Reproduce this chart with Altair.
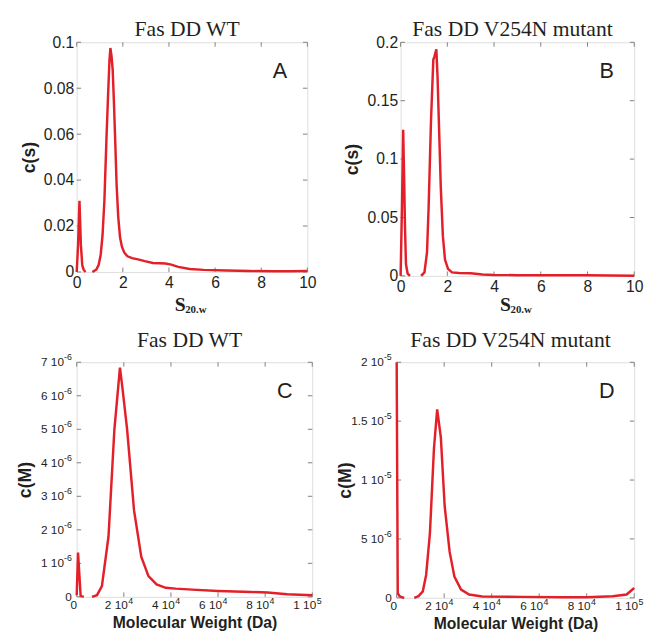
import altair as alt
import pandas as pd

RED = "#e3202a"
FRAME = "#808080"
TXT = "#231f20"
SANS = "Liberation Sans"
SERIF = "Liberation Serif"

# ---------------- data ----------------
titles = ["Fas DD WT", "Fas DD V254N mutant", "Fas DD WT", "Fas DD V254N mutant"]
letters = ["A", "B", "C", "D"]

# Panel A: c(s) vs s20,w (WT)
a_s1 = [0.0, 0.06, 0.12, 0.18, 0.24, 0.3, 0.38]
a_c1 = [0.0, 0.012, 0.031, 0.012, 0.003, 0.001, 0.0]
a_s2 = [0.68, 0.85, 0.95, 1.04, 1.12, 1.2, 1.29, 1.36, 1.42, 1.46, 1.51, 1.56, 1.61, 1.67,
        1.73, 1.8, 1.88, 1.96, 2.06, 2.2, 2.4, 2.66, 2.95, 3.3, 3.6, 3.85, 4.1, 4.4, 4.9,
        5.5, 6.5, 7.5, 8.5, 9.3, 10.0]
a_c2 = [0.0, 0.001, 0.003, 0.0075, 0.016, 0.031, 0.058, 0.077, 0.092, 0.0975, 0.094, 0.088,
        0.075, 0.057, 0.038, 0.024, 0.015, 0.011, 0.0085, 0.0068, 0.006, 0.0055, 0.0047,
        0.0039, 0.0038, 0.0037, 0.0032, 0.0022, 0.0013, 0.0009, 0.0006, 0.0004, 0.0003,
        0.0003, 0.0004]

# Panel B: c(s) vs s20,w (V254N)
b_s1 = [0.0, 0.06, 0.11, 0.15, 0.19, 0.23, 0.3, 0.4]
b_c1 = [0.0, 0.06, 0.125, 0.085, 0.04, 0.01, 0.002, 0.0]
b_s2 = [0.88, 1.02, 1.13, 1.2, 1.3, 1.4, 1.45, 1.53, 1.58, 1.65, 1.72, 1.81, 1.9, 2.03,
        2.2, 2.5, 3.0, 3.5, 4.0, 5.0, 6.0, 7.0, 8.0, 9.0, 10.0]
b_c2 = [0.0, 0.003, 0.02, 0.059, 0.132, 0.185, 0.188, 0.194, 0.171, 0.124, 0.076, 0.034,
        0.014, 0.006, 0.003, 0.0025, 0.0022, 0.0012, 0.0008, 0.0006, 0.0006, 0.0006,
        0.0005, 0.0004, 0.0002]

# Panel C: c(M) vs molecular weight (WT)
c_m1 = [0, 560, 1670, 3000]
c_c1 = [0.05e-6, 1.32e-6, 0.03e-6, 0.0]
c_m2 = [6500, 8600, 10700, 13500, 16000, 18360, 19470, 21400, 24340, 27400, 30460, 33900,
        37800, 42000, 49000, 60000, 74000, 81000, 89300, 100000]
c_c2 = [0.0, 0.05e-6, 0.32e-6, 1.8e-6, 5.0e-6, 6.84e-6, 6.2e-6, 5.0e-6, 2.58e-6, 1.2e-6,
        0.62e-6, 0.37e-6, 0.27e-6, 0.245e-6, 0.215e-6, 0.176e-6, 0.147e-6, 0.127e-6,
        0.078e-6, 0.05e-6]

# Panel D: c(M) vs molecular weight (V254N)
d_m1 = [0, 450, 1200, 2200, 3200]
d_c1 = [20.0e-6, 0.4e-6, 0.15e-6, 0.05e-6, 0.0]
d_m2 = [7400, 9200, 11000, 12400, 14000, 15700, 17050, 18600, 20200, 22300, 24300, 27100,
        30500, 36000, 52500, 70000, 80000, 91000, 96800, 100000]
d_c2 = [0.0, 0.14e-6, 0.55e-6, 1.94e-6, 5.5e-6, 12.7e-6, 16.0e-6, 13.6e-6, 7.8e-6, 3.9e-6,
        1.8e-6, 0.7e-6, 0.28e-6, 0.11e-6, 0.08e-6, 0.05e-6, 0.055e-6, 0.14e-6, 0.28e-6,
        0.83e-6]

# ticks and labels
s_ticks = [0, 2, 4, 6, 8, 10]
s_labels = ["0", "2", "4", "6", "8", "10"]
a_yticks = [0, 0.02, 0.04, 0.06, 0.08, 0.1]
a_ylabels = ["0", "0.02", "0.04", "0.06", "0.08", "0.1"]
b_yticks = [0, 0.05, 0.1, 0.15, 0.2]
b_ylabels = ["0", "0.05", "0.1", "0.15", "0.2"]
# scientific labels: mantissa part and raised exponent part
m_ticks = [0, 20000, 40000, 60000, 80000, 100000]
m_main = ["0", "2 10", "4 10", "6 10", "8 10", "1 10"]
m_sup = ["", "4", "4", "4", "4", "5"]
c_yticks = [0, 1e-6, 2e-6, 3e-6, 4e-6, 5e-6, 6e-6, 7e-6]
c_ymain = ["0", "1 10", "2 10", "3 10", "4 10", "5 10", "6 10", "7 10"]
c_ysup = ["", "-6", "-6", "-6", "-6", "-6", "-6", "-6"]
d_yticks = [0, 5e-6, 1e-5, 1.5e-5, 2e-5]
d_ymain = ["0", "5 10", "1 10", "1.5 10", "2 10"]
d_ysup = ["", "-6", "-5", "-5", "-5"]

TL = 4.5  # inward tick length


def seg_df(segs):
    rows = []
    for i, (xs, ys) in enumerate(segs):
        for x, y in zip(xs, ys):
            rows.append({"x": x, "y": y, "seg": i})
    return pd.DataFrame(rows)


def lab_expr(ticks, labels):
    return ("[" + ",".join("'%s'" % l for l in labels) + "][indexof(["
            + ",".join(repr(t) for t in ticks) + "], datum.value)]")


def txt(df, **kw):
    base = dict(font=SANS, color=TXT)
    base.update(kw)
    return alt.Chart(df).mark_text(**base)


def panel(df, W, H, xdom, ydom, xticks, yticks, ytitle, letter, title, xtitle,
          xlab=None, ylab=None, sci_x=None, sci_y=None, title_off=-3, ytitle_lh=18,
          s_y=39):
    common = dict(ticks=False, tickSize=0, domain=False, grid=False, titleColor=TXT,
                  labelFlush=False, labelOverlap=False, labelColor=TXT)
    if xlab is not None:
        xaxis = alt.Axis(values=xticks, labelExpr=lab_expr(xticks, xlab), labelPadding=3,
                         labelFontSize=16, labelFont=SANS, title=xtitle, titleFont=SERIF,
                         titleFontSize=20, titleFontWeight="bold", titleX=W / 2 - 7,
                         titleAlign="right", titleY=s_y, titleBaseline="alphabetic",
                         **common)
    else:
        xaxis = alt.Axis(values=xticks, labels=False, minExtent=0, maxExtent=0,
                         title=xtitle, titleFont=SANS, titleFontSize=16,
                         titleFontWeight="bold", titlePadding=18, **common)
    if ylab is not None:
        yaxis = alt.Axis(values=yticks, labelExpr=lab_expr(yticks, ylab), labelPadding=3,
                         labelFontSize=16, labelFont=SANS, minExtent=35, maxExtent=35,
                         title=ytitle, titleFont=SANS, titleFontSize=18,
                         titleFontWeight="bold", titlePadding=4.5,
                         titleLineHeight=ytitle_lh, **common)
    else:
        yaxis = alt.Axis(values=yticks, labels=False, minExtent=0, maxExtent=0,
                         title=ytitle, titleFont=SANS, titleFontSize=18,
                         titleFontWeight="bold", titlePadding=43, **common)
    xs = alt.Scale(domain=xdom, nice=False, zero=False)
    ys = alt.Scale(domain=ydom, nice=False, zero=False)
    X = alt.X("x:Q", scale=xs, axis=xaxis)
    Y = alt.Y("y:Q", scale=ys, axis=yaxis)
    line = alt.Chart(df).mark_line(color=RED, strokeWidth=2.5).encode(
        x=X, y=Y, detail="seg:N",
    )
    xt = alt.Chart(pd.DataFrame({"x": xticks})).mark_rule(color=FRAME, strokeWidth=1)
    xb = xt.encode(x=X, y=alt.value(H), y2=alt.value(H - TL))
    xtp = xt.encode(x=X, y=alt.value(0), y2=alt.value(TL))
    yt = alt.Chart(pd.DataFrame({"y": yticks})).mark_rule(color=FRAME, strokeWidth=1)
    yl = yt.encode(y=Y, x=alt.value(0), x2=alt.value(TL))
    yr = yt.encode(y=Y, x=alt.value(W - TL), x2=alt.value(W))
    let = txt(pd.DataFrame({"t": [letter]}), fontSize=22, align="center",
              baseline="middle").encode(x=alt.value(W - 28), y=alt.value(29), text="t:N")
    layers = [xb, xtp, yl, yr, let]
    if xlab is not None:
        layers.append(
            txt(pd.DataFrame({"t": ["20.w"]}), font=SERIF, fontWeight="bold", fontSize=11,
                align="left", baseline="alphabetic").encode(
                x=alt.value(W / 2 - 7), y=alt.value(H + s_y + 3), text="t:N"))
    if sci_x is not None:
        mains, sups = sci_x
        dfx = pd.DataFrame({"x": xticks, "m": mains, "s": sups})
        z = dfx[dfx.s == ""]
        nz = dfx[dfx.s != ""]
        layers += [
            txt(z, fontSize=12, align="center", baseline="top", dx=-3).encode(
                x=X, y=alt.value(H + 3), text="m:N"),
            txt(nz, fontSize=12, align="right", baseline="top", dx=4).encode(
                x=X, y=alt.value(H + 3), text="m:N"),
            txt(nz, fontSize=9, align="left", baseline="top", dx=4.5).encode(
                x=X, y=alt.value(H + 0.5), text="s:N"),
        ]
    if sci_y is not None:
        mains, sups = sci_y
        dfy = pd.DataFrame({"y": yticks, "m": mains, "s": sups})
        z = dfy[dfy.s == ""]
        nz = dfy[dfy.s != ""]
        layers += [
            txt(z, fontSize=12, align="right", baseline="middle").encode(
                y=Y, x=alt.value(-5), text="m:N"),
            txt(nz, fontSize=12, align="right", baseline="middle").encode(
                y=Y, x=alt.value(-13), text="m:N"),
            txt(nz, fontSize=9, align="right", baseline="middle", dy=-5).encode(
                y=Y, x=alt.value(-5), text="s:N"),
        ]
    layers.append(line)
    return alt.layer(*layers).properties(
        width=W, height=H,
        title=alt.Title(title, font=SERIF, fontSize=22, fontWeight="normal", color=TXT,
                        offset=title_off, dx=-5),
    )


pA = panel(seg_df([(a_s1, a_c1), (a_s2, a_c2)]), 235, 234, [0, 10], [0, 0.1],
           s_ticks, a_yticks, [" ", "c(s)"], letters[0], titles[0], "S",
           xlab=s_labels, ylab=a_ylabels, ytitle_lh=8.5, s_y=39, title_off=-7)
pB = panel(seg_df([(b_s1, b_c1), (b_s2, b_c2)]), 238, 238, [0, 10], [0, 0.2],
           s_ticks, b_yticks, [" ", "c(s)"], letters[1], titles[1], "S",
           xlab=s_labels, ylab=b_ylabels, ytitle_lh=7.5, s_y=35, title_off=-7)
pC = panel(seg_df([(c_m1, c_c1), (c_m2, c_c2)]), 240, 239, [0, 100000], [0, 7e-6],
           m_ticks, c_yticks, "c(M)", letters[2], titles[2], "Molecular Weight (Da)",
           sci_x=(m_main, m_sup), sci_y=(c_ymain, c_ysup), title_off=2)
pD = panel(seg_df([(d_m1, d_c1), (d_m2, d_c2)]), 242, 240, [0, 100000], [0, 2e-5],
           m_ticks, d_yticks, "c(M)", letters[3], titles[3], "Molecular Weight (Da)",
           sci_x=(m_main, m_sup), sci_y=(d_ymain, d_ysup), title_off=2)

chart = alt.concat(
    pA, pB, pC, pD, columns=2, align="none",
    spacing={"row": 12, "column": 13},
).properties(
    padding={"left": 3, "top": 4, "right": 0, "bottom": 0}
).configure_view(stroke=FRAME, strokeWidth=1).configure(background="white")

chart.save("out.html", embed_options={"renderer": "svg", "actions": False})
